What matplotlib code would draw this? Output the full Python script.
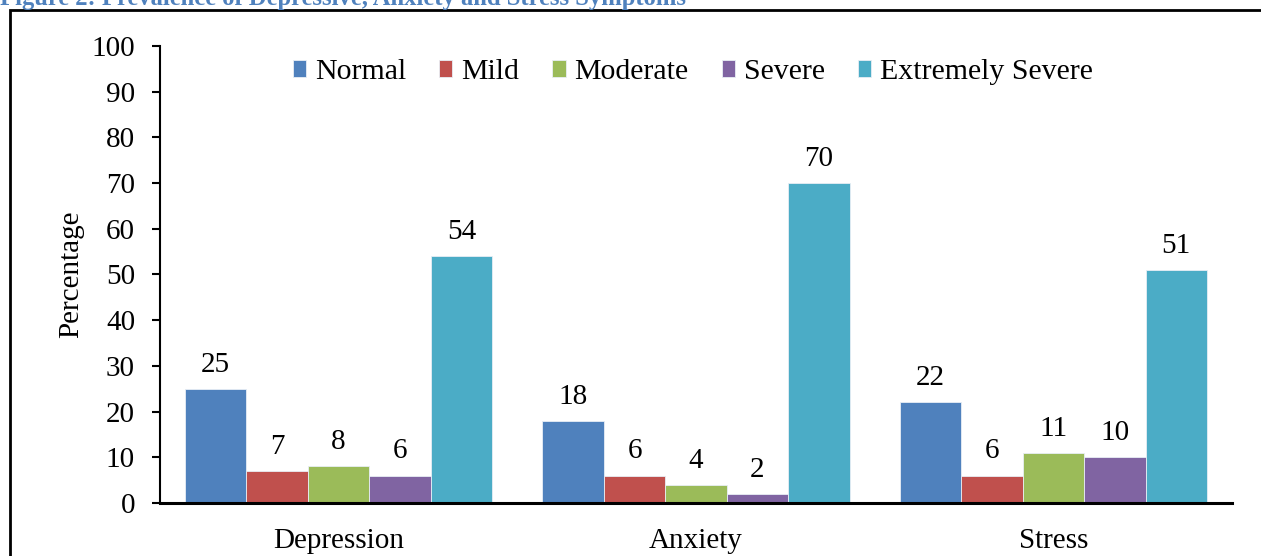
import numpy as np
import matplotlib.pyplot as plt
from matplotlib.patches import Rectangle

plt.rcParams['font.family'] = ['Liberation Serif', 'DejaVu Serif']

# DASS-21 severity levels per scale (percentages)
scales = ['Depression', 'Anxiety', 'Stress']
levels = ['Normal', 'Mild', 'Moderate', 'Severe', 'Extremely Severe']
normal = [25, 18, 22]
mild = [7, 6, 6]
moderate = [8, 4, 11]
severe = [6, 2, 10]
extremely_severe = [54, 70, 51]
series = [normal, mild, moderate, severe, extremely_severe]
colors = ['#4F81BD', '#C0504D', '#9BBB59', '#8064A2', '#4BACC6']

fig = plt.figure(figsize=(12.61, 5.56), dpi=100)
ax = fig.add_axes([0.1269, 0.0953, 0.977 - 0.1269, 0.9173 - 0.0953])

x = np.arange(len(scales))
width = 0.172
for i, (vals, name, c) in enumerate(zip(series, levels, colors)):
    bars = ax.bar(x + (i - 2) * width, vals, width, color=c, label=name,
                  edgecolor='#e8eef5', linewidth=0.6)
    for b, v in zip(bars, vals):
        ax.annotate(str(v), (b.get_x() + b.get_width() / 2, v),
                    xytext=(0, 8), textcoords='offset points',
                    ha='center', va='bottom', fontsize=21)

ax.set_xlim(-0.5, 2.5)
ax.set_ylim(0, 100)
ax.set_yticks(range(0, 101, 10))
ax.set_xticks(x)
ax.set_xticklabels(scales)
ax.tick_params(axis='y', direction='out', length=6, width=1.5, pad=12, labelsize=21)
ax.tick_params(axis='x', length=0, pad=18, labelsize=21)
for s in ['top', 'right']:
    ax.spines[s].set_visible(False)
ax.spines['left'].set_linewidth(1.5)
ax.spines['bottom'].set_linewidth(2.2)

ax.set_ylabel('Percentage', fontsize=21)
ax.yaxis.set_label_coords(-0.071, 0.5)

ax.legend(loc='upper center', bbox_to_anchor=(0.497, 1.03), ncol=5,
          frameon=False, fontsize=21.5, handlelength=0.45, handleheight=0.45,
          handletextpad=0.3, columnspacing=1.1)

# outer frame, cut off at the right and bottom
fig.patches.append(Rectangle((10 / 1261, -0.1), 1.2, 1 - 10 / 556 + 0.1,
                             transform=fig.transFigure, fill=False,
                             edgecolor='black', linewidth=2))

fig.text(0.0, 1 - 5 / 556, 'Figure 2: Prevalence of Depressive, Anxiety and Stress Symptoms',
         ha='left', va='baseline', fontsize=17.7, fontweight='bold', color='#4F81BD')

fig.savefig('out.png', dpi=100)
